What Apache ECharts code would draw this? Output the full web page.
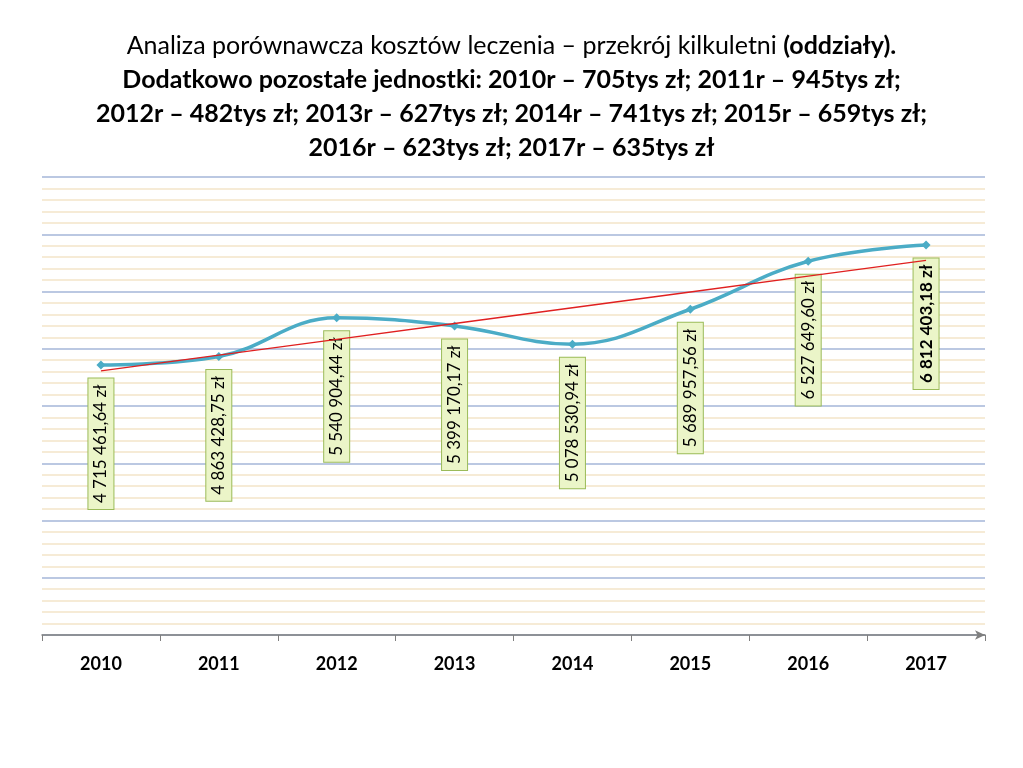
<!DOCTYPE html>
<html>
<head>
<meta charset="utf-8">
<script src="https://cdn.jsdelivr.net/npm/echarts@6/dist/echarts.min.js"></script>
<style>html,body{margin:0;padding:0;background:#fff}#chart{width:1023px;height:768px}</style>
</head>
<body>
<div id="chart"></div>
<script>
const years = ['2010', '2011', '2012', '2013', '2014', '2015', '2016', '2017'];
const costs = [4715461.64, 4863428.75, 5540904.44, 5399170.17, 5078530.94, 5689957.56, 6527649.60, 6812403.18];
const costLabels = ['4 715 461,64 zł', '4 863 428,75 zł', '5 540 904,44 zł', '5 399 170,17 zł',
    '5 078 530,94 zł', '5 689 957,56 zł', '6 527 649,60 zł', '6 812 403,18 zł'];

// linear trend (least squares) like the spreadsheet trendline
const n = costs.length;
const mx = (n - 1) / 2;
const my = costs.reduce((a, b) => a + b, 0) / n;
let num = 0, den = 0;
costs.forEach((v, i) => { num += (i - mx) * (v - my); den += (i - mx) * (i - mx); });
const slope = num / den;
const trend = costs.map((v, i) => my + slope * (i - mx));

const font = 'Lato, "Open Sans", sans-serif';
const chart = echarts.init(document.getElementById('chart'));
chart.setOption({
    animation: false,
    title: {
        left: 'center',
        top: 24,
        text: '{n|Analiza porównawcza kosztów leczenia – przekrój kilkuletni }{b|(oddziały).}\n' +
            '{b|Dodatkowo pozostałe jednostki: 2010r – 705tys zł; 2011r – 945tys zł;}\n' +
            '{b|2012r – 482tys zł; 2013r – 627tys zł; 2014r – 741tys zł; 2015r – 659tys zł;}\n' +
            '{b|2016r – 623tys zł; 2017r – 635tys zł}',
        textStyle: {
            fontWeight: 'normal',
            rich: {
                n: {fontFamily: font, fontSize: 25, fontWeight: 'normal', color: '#000', lineHeight: 34},
                b: {fontFamily: font, fontSize: 25, fontWeight: 'bold', color: '#000', lineHeight: 34}
            }
        }
    },
    grid: {left: 42, right: 38, top: 177, bottom: 133},
    xAxis: {
        type: 'category',
        data: years,
        boundaryGap: true,
        axisLine: {lineStyle: {color: '#7f7f7f', width: 1.5}, symbol: ['none', 'arrow'], symbolSize: [7, 10]},
        axisTick: {show: true, length: 6, lineStyle: {color: '#7f7f7f'}},
        axisLabel: {fontFamily: font, fontSize: 18, fontWeight: 'bold', color: '#000', margin: 20}
    },
    yAxis: [{
        type: 'value', min: 0, max: 8000000, interval: 200000,
        axisLine: {show: false}, axisTick: {show: false}, axisLabel: {show: false},
        splitLine: {lineStyle: {color: '#f3e4c8', width: 1.5}}
    }, {
        type: 'value', min: 0, max: 8000000, interval: 1000000,
        axisLine: {show: false}, axisTick: {show: false}, axisLabel: {show: false},
        splitLine: {lineStyle: {color: '#a7bde6', width: 1.5}}
    }],
    series: [{
        type: 'line',
        data: costs,
        smooth: 0.4,
        symbol: 'diamond',
        symbolSize: 9,
        lineStyle: {color: '#4bacc6', width: 3.5},
        itemStyle: {color: '#4bacc6'},
        label: {
            show: true,
            position: 'bottom',
            distance: 9,
            rotate: 90,
            align: 'right',
            verticalAlign: 'middle',
            fontFamily: font,
            fontSize: 17,
            color: '#000',
            backgroundColor: '#ebf5c8',
            borderColor: '#9bbb59',
            borderWidth: 1,
            padding: [4, 6],
            formatter: p => p.dataIndex === n - 1 ? '{b|' + costLabels[p.dataIndex] + '}' : costLabels[p.dataIndex],
            rich: {b: {fontFamily: font, fontSize: 17, fontWeight: 'bold', color: '#000'}}
        },
        z: 3
    }, {
        type: 'line',
        data: trend,
        symbol: 'none',
        lineStyle: {color: '#e02020', width: 1.3},
        z: 4
    }]
});
</script>
</body>
</html>
